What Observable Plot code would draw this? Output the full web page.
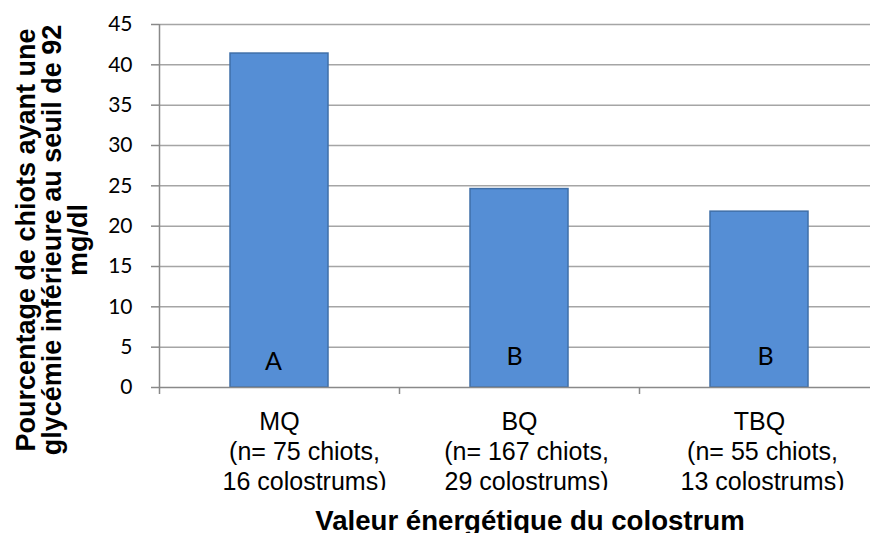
<!DOCTYPE html>
<html>
<head>
<meta charset="utf-8">
<script src="https://cdn.jsdelivr.net/npm/d3@7"></script>
<script src="https://cdn.jsdelivr.net/npm/@observablehq/plot@0.6"></script>
<style>
  body { margin: 0; background: #fff; }
  #chart svg { display: block; }
</style>
</head>
<body>
<div id="chart"></div>
<script>
// Colostrum energy class and its sample sizes
const categories = ["MQ", "BQ", "TBQ"];
const sampleSizes = [
  "(n= 75 chiots,\n16 colostrums)",
  "(n= 167 chiots,\n29 colostrums)",
  "(n= 55 chiots,\n13 colostrums)"
];
// Share of puppies below the 92 mg/dl glycaemia threshold (%)
const percentages = [41.4, 24.6, 21.8];
// Statistical groups
const groupLetters = ["A", "B", "B"];
const yTicks = [0, 5, 10, 15, 20, 25, 30, 35, 40, 45];
const yTitleLines = [
  "Pourcentage de chiots ayant une",
  "glycémie inférieure au seuil de 92",
  "mg/dl"
];
const xTitle = "Valeur énergétique du colostrum";

const rows = categories.map((c, i) => ({
  category: c,
  value: percentages[i],
  letter: groupLetters[i],
  sample: sampleSizes[i]
}));

const W = 870, H = 533;
const left = 159, right = 879;               // category axis runs a little past the edge
const step = (right - left) / categories.length;
const axisGray = "#898989";
const sans = "'Liberation Sans', Arial, sans-serif";
const digits = "Lato, 'Open Sans', sans-serif";

// nudges for the group letters inside the bars (px)
const letterNudge = [[-6, -26], [-5, -31], [6, -31]];
// horizontal nudge of the sample-size lines under each class name (px)
const sampleNudge = [25, 7, 3];

const sampleMarks = rows.map((d, i) => Plot.text([d], {
  x: "category", frameAnchor: "bottom", text: "sample",
  dx: sampleNudge[i], dy: 51, lineAnchor: "top", lineHeight: 1.2,
  fontSize: 25, fill: "#000"
}));

const chart = Plot.plot({
  width: W,
  height: H,
  marginLeft: left,
  marginRight: 0,
  marginTop: 24,
  marginBottom: 146,
  style: { fontFamily: sans, background: "#fff", color: "#000", overflow: "visible" },
  x: { domain: categories, range: [left, right], paddingInner: 0.592, paddingOuter: 0.296 },
  y: { domain: [0, 45] },
  marks: [
    Plot.gridY(yTicks.filter(t => t > 0), { stroke: "#a5a5a5", strokeOpacity: 1, strokeWidth: 1.5 }),
    Plot.barY(rows, { x: "category", y: "value", fill: "#558ed5", stroke: "#3f6fa8", strokeWidth: 1.5 }),
    Plot.ruleY([0], { stroke: axisGray, strokeWidth: 1.5 }),
    // value axis line
    Plot.ruleX(categories.slice(0, 1), { x: d => d, dx: -step / 2, y1: 45, y2: 0, insetBottom: -7, stroke: axisGray, strokeWidth: 1.5 }),
    // category boundary ticks
    Plot.ruleX(categories.slice(1), { x: d => d, dx: -step / 2, y1: 0, y2: 0, insetBottom: -7, stroke: axisGray, strokeWidth: 1.5 }),
    Plot.axisY(yTicks, {
      tickSize: 8, tickPadding: 19, stroke: axisGray, strokeWidth: 1.5, fill: "#000",
      fontSize: 21, fontFamily: digits, label: null
    }),
    Plot.axisX({
      tickSize: 0, tickPadding: 25, fontSize: 25, fill: "#000", label: null
    }),
    // sample sizes under each class name
    ...sampleMarks,
    // group letters
    ...rows.map((d, i) => Plot.text([d], {
      x: "category", y: 0, text: "letter",
      dx: letterNudge[i][0], dy: letterNudge[i][1],
      fontSize: 25, fontFamily: digits, fill: "#000", lineAnchor: "middle"
    }))
  ]
});

document.getElementById("chart").appendChild(chart);

const svg = d3.select(chart);

// the last label line is cut by the bottom of the plot area
svg.append("defs").append("clipPath").attr("id", "cat-clip")
  .attr("clipPathUnits", "userSpaceOnUse")
  .append("rect").attr("x", 0).attr("y", 0).attr("width", W).attr("height", 490);
const clipped = svg.append("g").attr("clip-path", "url(#cat-clip)");
svg.selectAll('g[aria-label="text"]')
  .filter(function () { return this.textContent.includes("colostrums"); })
  .each(function () { clipped.node().appendChild(this); });

// value axis title, rotated
const yTitle = svg.append("text")
  .attr("transform", "translate(0,240) rotate(-90)")
  .attr("text-anchor", "middle")
  .attr("font-family", sans)
  .attr("font-weight", "bold")
  .attr("font-size", 27)
  .attr("fill", "#000");
yTitleLines.forEach((line, i) => {
  yTitle.append("tspan").attr("x", 0).attr("y", 35 + i * 26).text(line);
});

// category axis title
svg.append("text")
  .attr("x", 530)
  .attr("y", 530)
  .attr("text-anchor", "middle")
  .attr("font-family", sans)
  .attr("font-weight", "bold")
  .attr("font-size", 27.6)
  .attr("fill", "#000")
  .text(xTitle);
</script>
</body>
</html>
